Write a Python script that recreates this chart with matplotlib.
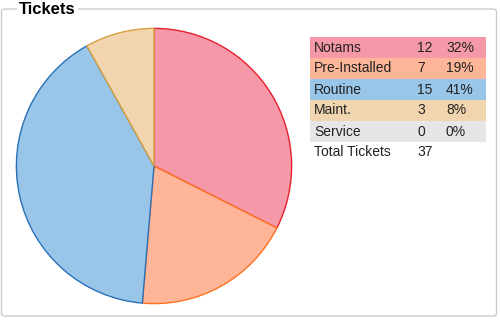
import matplotlib.pyplot as plt
from matplotlib.patches import FancyBboxPatch, Rectangle

# data
labels = ['Notams', 'Pre-Installed', 'Routine', 'Maint.', 'Service']
counts = [12, 7, 15, 3, 0]
fills = ['#F599A8', '#FFB598', '#99C6E8', '#F0D5AE', '#E6E6E6']
edges = ['#E8202C', '#FF7020', '#2A70B8', '#D8A040', '#B0B0B0']
total = sum(counts)

W, H = 500, 320
fig = plt.figure(figsize=(W / 100, H / 100), dpi=100)

def fx(x):
    return x / W

def fy(y):
    return 1 - y / H

# frame
frame = FancyBboxPatch((fx(1.5), fy(316)), fx(495), 307 / H,
                       boxstyle='round,pad=0,rounding_size=0.008',
                       transform=fig.transFigure, facecolor='white',
                       edgecolor='#CCCCCC', linewidth=1, zorder=-5)
fig.patches.append(frame)
fig.text(fx(19), fy(9), 'Tickets', fontsize=12, fontweight='bold',
         ha='left', va='center', family='Liberation Sans',
         bbox=dict(facecolor='white', edgecolor='none', pad=1.5))

# pie
cx, cy, r = 154, 166, 139
ax = fig.add_axes([fx(cx - r), fy(cy + r), 2 * r / W, 2 * r / H], zorder=2)
nz = [(c, f, e) for c, f, e in zip(counts, fills, edges) if c > 0]
wedges, _ = ax.pie([c for c, _, _ in nz], colors=[f for _, f, _ in nz],
                   startangle=90, counterclock=False, radius=1,
                   wedgeprops=dict(linewidth=1))
for w, (_, _, e) in zip(wedges, nz):
    w.set_edgecolor(e)
ax.set_xlim(-1.01, 1.01)
ax.set_ylim(-1.01, 1.01)
ax.set_aspect('equal')
ax.axis('off')

# table
x0, x1 = 310, 486
top, rh = 37, 21
fs = 10
for i, (lab, c, f) in enumerate(zip(labels, counts, fills)):
    y = top + i * rh
    fig.patches.append(Rectangle((fx(x0), fy(y + rh)), (x1 - x0) / W, rh / H,
                                 transform=fig.transFigure, facecolor=f,
                                 edgecolor='none'))
    ym = y + rh / 2
    pct = round(100 * c / total) if total else 0
    for x, s in [(314, lab), (417, str(c)), (446, f'{pct}%')]:
        fig.text(fx(x), fy(ym), s, fontsize=fs, ha='left', va='center',
                 color='#222222', family='Liberation Sans')
ym = top + len(labels) * rh + 10
fig.text(fx(314), fy(ym), 'Total Tickets', fontsize=fs, ha='left',
         va='center', color='#222222', family='Liberation Sans')
fig.text(fx(417), fy(ym), str(total), fontsize=fs, ha='left',
         va='center', color='#222222', family='Liberation Sans')

fig.savefig('out.png', dpi=100)
